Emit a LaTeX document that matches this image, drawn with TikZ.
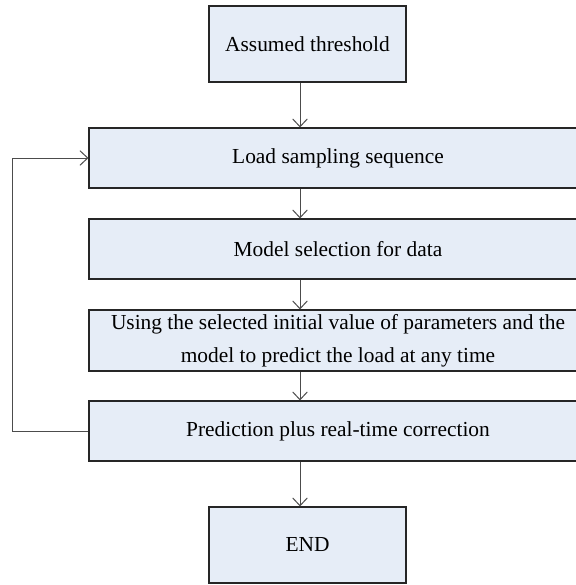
\documentclass[tikz,border=0pt]{standalone}
\usepackage{fontspec}
\setmainfont{Liberation Serif}
\usetikzlibrary{arrows.meta}
\definecolor{boxfill}{RGB}{230,237,247}
\tikzset{
	flowbox/.style={draw=black!85, fill=boxfill, line width=0.55pt, inner sep=0pt, align=center, font=\fontsize{10.7}{16.5}\selectfont},
	smallbox/.style={flowbox, minimum width=98.5pt, minimum height=38pt},
	widebox/.style={flowbox, minimum width=249pt, minimum height=30pt},
	flowarrow/.style={draw=black!70, line width=0.5pt, -{Straight Barb[length=3.9pt,width=7.3pt]}}
}

\begin{document}
\begin{tikzpicture}[x=0.5pt,y=-0.5pt]

	\clip (0,0) rectangle (576,585);

	\node[smallbox] (n1) at (307.5,44) {Assumed threshold};
	\node[widebox] (n2) at (338,158) {Load sampling sequence};
	\node[widebox] (n3) at (338,249) {Model selection for data};
	\node[widebox, minimum height=30.5pt] (n4) at (338,340.5) {Using the selected initial value of parameters and the\\model to predict the load at any time};
	\node[widebox] (n5) at (338,431) {Prediction plus real-time correction};
	\node[smallbox] (n6) at (307.5,545) {END};
	\coordinate (ax) at (300,0);

	\foreach \i / \j in {
	1/2,
	2/3,
	3/4,
	4/5,
	5/6}
	{
		\draw[flowarrow] (n\i.south -| ax) -- (n\j.north -| ax);
	};
	\draw[flowarrow] (n5.west) -- ++(-76,0) |- (n2.west);
\end{tikzpicture}
\end{document}
